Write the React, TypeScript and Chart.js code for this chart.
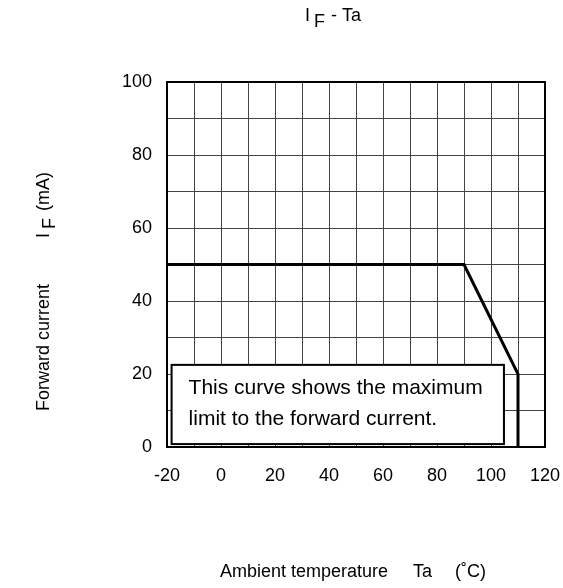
import React, { useEffect, useRef } from "react";
import { Chart, registerables } from "chart.js";

Chart.register(...registerables);

// ---- data ----
const curveTemps = [-20, 90, 110, 110];
const curveCurrents = [50, 50, 20, 0];
const xMin = -20;
const xMax = 120;
const yMin = 0;
const yMax = 100;
const gridStep = 10;
const labelStep = 20;
const noteLines = ["This curve shows the maximum", "limit to the forward current."];
const noteBoxX = [-18.3, 104.8];
const noteBoxY = [0.8, 22.5];

const FONT = "'Liberation Sans', Arial, sans-serif";

const textPlugin = {
  id: "customText",
  afterDraw(chart: any) {
    const ctx = chart.ctx as CanvasRenderingContext2D;
    const area = chart.chartArea;
    const xs = chart.scales.x;
    const ys = chart.scales.y;
    ctx.save();
    // frame
    ctx.strokeStyle = "#000";
    ctx.lineWidth = 2;
    ctx.strokeRect(area.left, area.top, area.right - area.left, area.bottom - area.top);

    // note box
    const bx0 = xs.getPixelForValue(noteBoxX[0]);
    const bx1 = xs.getPixelForValue(noteBoxX[1]);
    const by0 = ys.getPixelForValue(noteBoxY[1]);
    const by1 = ys.getPixelForValue(noteBoxY[0]);
    ctx.fillStyle = "#fff";
    ctx.fillRect(bx0, by0, bx1 - bx0, by1 - by0);
    ctx.lineWidth = 2;
    ctx.strokeRect(bx0, by0, bx1 - bx0, by1 - by0);
    ctx.fillStyle = "#000";
    ctx.font = `21px ${FONT}`;
    ctx.textBaseline = "alphabetic";
    ctx.textAlign = "left";
    ctx.fillText(noteLines[0], bx0 + 17, by0 + 29);
    ctx.fillText(noteLines[1], bx0 + 17, by0 + 60);

    // title I_F - Ta
    ctx.font = `18px ${FONT}`;
    ctx.fillText("I", 305, 21);
    ctx.fillText("F", 314, 27);
    ctx.fillText("- Ta", 331, 21);

    // x axis title
    ctx.fillText("Ambient temperature", 220, 577);
    ctx.fillText("Ta", 413, 577);
    ctx.fillText("(˚C)", 455, 577);

    // y axis title (rotated)
    ctx.translate(49, 411);
    ctx.rotate(-Math.PI / 2);
    ctx.fillText("Forward current", 0, 0);
    ctx.fillText("I", 173, 0);
    ctx.fillText("F", 182, 6);
    ctx.fillText("(mA)", 200, 0);
    ctx.restore();
  },
};

export default function App() {
  const ref = useRef<HTMLCanvasElement | null>(null);
  useEffect(() => {
    document.body.style.margin = "0";
    const canvas = ref.current!;
    const chart = new Chart(canvas, {
      type: "scatter",
      data: {
        datasets: [
          {
            data: curveTemps.map((t, i) => ({ x: t, y: curveCurrents[i] })),
            showLine: true,
            borderColor: "#000",
            borderWidth: 3,
            pointRadius: 0,
            tension: 0,
            fill: false,
          },
        ],
      },
      options: {
        animation: false,
        responsive: false,
        maintainAspectRatio: false,
        devicePixelRatio: 1,
        layout: { padding: { top: 82, right: 18, left: 0, bottom: 0 } },
        plugins: { legend: { display: false }, tooltip: { enabled: false }, title: { display: false } },
        scales: {
          x: {
            type: "linear",
            min: xMin,
            max: xMax,
            afterFit: (s: any) => {
              s.height = 141;
              s.paddingLeft = 0;
              s.paddingRight = 0;
            },
            ticks: {
              stepSize: gridStep,
              autoSkip: false,
              maxRotation: 0,
              padding: 18,
              color: "#000",
              font: { family: FONT, size: 18 },
              callback: (v: any) => (Number(v) % labelStep === 0 ? String(v) : ""),
            },
            grid: { color: "#444", lineWidth: 1, drawTicks: false },
            border: { display: false },
          },
          y: {
            type: "linear",
            min: yMin,
            max: yMax,
            afterFit: (s: any) => {
              s.width = 167;
              s.paddingTop = 0;
              s.paddingBottom = 0;
            },
            ticks: {
              stepSize: gridStep,
              autoSkip: false,
              padding: 15,
              color: "#000",
              font: { family: FONT, size: 18 },
              callback: (v: any) => (Number(v) % labelStep === 0 ? String(v) : ""),
            },
            grid: { color: "#444", lineWidth: 1, drawTicks: false },
            border: { display: false },
          },
        },
      },
      plugins: [textPlugin],
    });
    return () => chart.destroy();
  }, []);
  return <canvas ref={ref} width={563} height={588} style={{ display: "block" }} />;
}
